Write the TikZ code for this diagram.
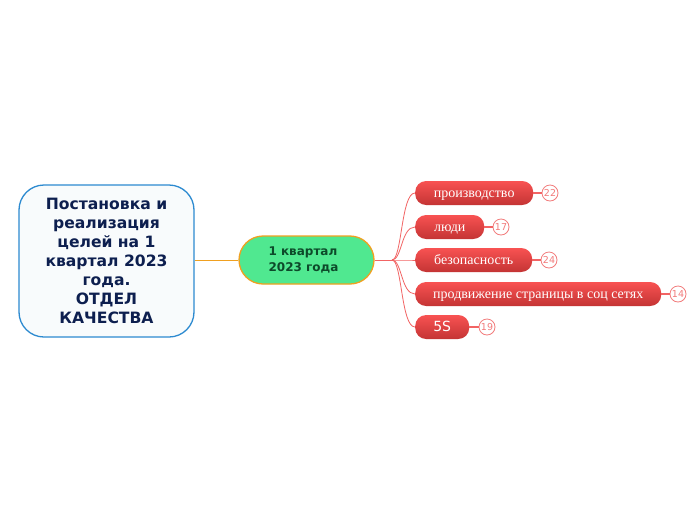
\documentclass[tikz,border=0pt]{standalone}
\usepackage{fontspec}
\usetikzlibrary{calc}
\setmainfont{Liberation Serif}
\newfontfamily\vsans{DejaVu Sans}
\definecolor{rootborder}{HTML}{2C8AD0}
\definecolor{rootfill}{HTML}{F8FBFC}
\definecolor{roottext}{HTML}{0D1F4F}
\definecolor{cfill}{HTML}{50E890}
\definecolor{cborder}{HTML}{F0A020}
\definecolor{ctext}{HTML}{0D4A2A}
\definecolor{redtop}{HTML}{F85252}
\definecolor{redbot}{HTML}{C43434}
\definecolor{redline}{HTML}{F26464}
\definecolor{numcol}{HTML}{F27C7C}
\begin{document}
\begin{tikzpicture}[x=1pt,y=-1pt,
  rootbox/.style={draw=rootborder, line width=1.3pt, fill=rootfill, rounded corners=25pt,
    minimum width=175pt, minimum height=152pt, align=center, text=roottext,
    font=\vsans\bfseries\fontsize{15.6}{19}\selectfont, inner sep=0pt},
  centerbox/.style={draw=cborder, line width=1.3pt, fill=cfill, rounded corners=24pt,
    minimum width=135pt, minimum height=48pt, align=left, text=ctext,
    font=\vsans\bfseries\fontsize{12}{16}\selectfont, inner sep=0pt},
  topic/.style={top color=redtop, bottom color=redbot, draw=none, rounded corners=11pt,
    minimum height=24pt, anchor=west, text=white, inner sep=0pt,
    text height=11pt, text depth=2pt,
    font=\fontsize{14}{16}\selectfont},
  num/.style={circle, draw=numcol, line width=0.8pt, fill=white, minimum size=16pt,
    inner sep=0pt, text=numcol, font=\vsans\fontsize{9.5}{10}\selectfont},
  link/.style={draw=redline, line width=0.8pt},
  numlink/.style={draw=redline, line width=1.2pt}
]
\useasboundingbox (0,0) rectangle (696,520);
\fill[white] (0,0) rectangle (696,520);

\node[rootbox] (root) at (106.5,261) {Постановка и\\реализация\\целей на 1\\квартал 2023\\года.\\ОТДЕЛ\\КАЧЕСТВА};
\node[centerbox] (c) at (306.5,260) {\raisebox{-1.5pt}{\hspace*{-6pt}1 квартал}\\\raisebox{-1.5pt}{\hspace*{-6pt}2023 года}};
\draw[cborder, line width=1pt] (root.east |- c.west) -- (c.west);

\coordinate (br) at (392,260);
\draw[link] (c.east) -- (br);

\node[topic, minimum width=118pt] (t1) at (415,193) {производство};
\node[topic, minimum width=69pt] (t2) at (415,227) {люди};
\node[topic, minimum width=117pt] (t3) at (415,260) {безопасность};
\node[topic, minimum width=246pt] (t4) at (415,294) {продвижение страницы в соц сетях};
\node[topic, minimum width=54pt, font=\vsans\fontsize{14}{16}\selectfont] (t5) at (415,327) {5S};

\foreach \t in {t1,t2,t3,t4,t5}{
  \draw[link] (br) .. controls (402,260) and ($(\t.west)+(-14,0)$) .. (\t.west);
}

\node[num] (n1) at (550,193) {22};
\node[num] (n2) at (501,227) {17};
\node[num] (n3) at (549,260) {24};
\node[num] (n4) at (678,294) {14};
\node[num] (n5) at (487,327) {19};
\draw[numlink] (t1.east) -- (n1.west);
\draw[numlink] (t2.east) -- (n2.west);
\draw[numlink] (t3.east) -- (n3.west);
\draw[numlink] (t4.east) -- (n4.west);
\draw[numlink] (t5.east) -- (n5.west);
\end{tikzpicture}
\end{document}
